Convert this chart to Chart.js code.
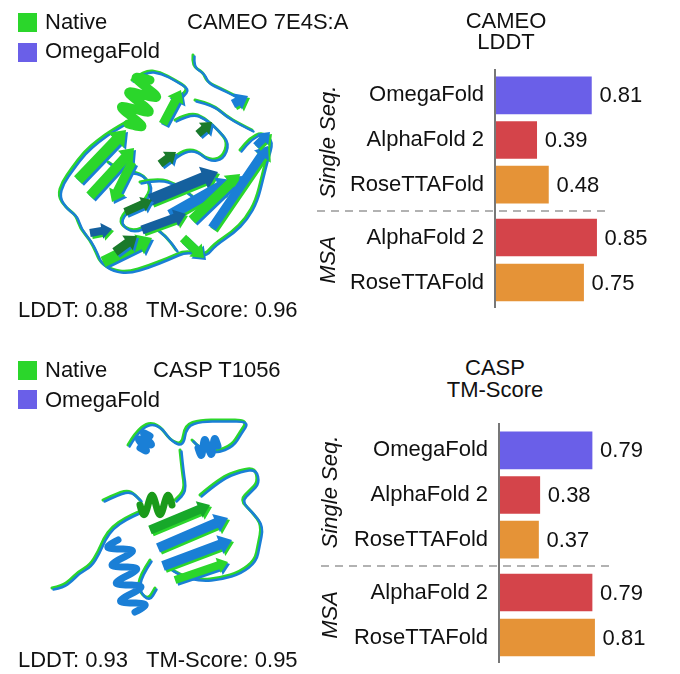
<!DOCTYPE html>
<html>
<head>
<meta charset="utf-8">
<script src="https://cdn.jsdelivr.net/npm/chart.js@4.4.0/dist/chart.umd.min.js"></script>
<style>
body { margin: 0; width: 680px; height: 674px; background: #fff; position: relative; overflow: hidden;
       font-family: 'Liberation Sans', Arial, sans-serif; color: #111; }
.t { position: absolute; font-size: 22px; line-height: 22px; white-space: nowrap; }
.c { text-align: center; width: 200px; }
.rot { position: absolute; font-size: 22px; font-style: italic; white-space: nowrap;
       transform: translate(-50%, -50%) rotate(-90deg); }
.sq { position: absolute; width: 19px; height: 19px; }
canvas, svg { position: absolute; }
</style>
</head>
<body>

<canvas id="proteins" width="320" height="674" style="left:0;top:0"></canvas>

<!-- top panel text -->
<div class="sq" style="left:18px;top:13px;background:#2bd62b"></div>
<div class="t" style="left:45px;top:11px">Native</div>
<div class="sq" style="left:18px;top:43px;background:#6a5fe8"></div>
<div class="t" style="left:45px;top:40px">OmegaFold</div>
<div class="t" style="left:187px;top:11px">CAMEO 7E4S:A</div>
<div class="t c" style="left:406px;top:10px">CAMEO</div>
<div class="t c" style="left:406px;top:31px">LDDT</div>
<div class="t" style="left:18px;top:299px">LDDT: 0.88 &nbsp; TM-Score: 0.96</div>
<div class="rot" style="left:328px;top:142px">Single Seq.</div>
<div class="rot" style="left:328px;top:260px">MSA</div>

<!-- bottom panel text -->
<div class="sq" style="left:18px;top:361px;background:#2bd62b"></div>
<div class="t" style="left:45px;top:359px">Native</div>
<div class="sq" style="left:18px;top:390px;background:#6a5fe8"></div>
<div class="t" style="left:45px;top:389px">OmegaFold</div>
<div class="t" style="left:153px;top:359px">CASP T1056</div>
<div class="t c" style="left:395px;top:357px">CASP</div>
<div class="t c" style="left:395px;top:379px">TM-Score</div>
<div class="t" style="left:18px;top:649px">LDDT: 0.93 &nbsp; TM-Score: 0.95</div>
<div class="rot" style="left:330px;top:492px">Single Seq.</div>
<div class="rot" style="left:330px;top:615px">MSA</div>

<canvas id="cameoSingle" width="340" height="142" style="left:340px;top:69px"></canvas>
<canvas id="cameoMsa" width="340" height="97" style="left:340px;top:211px"></canvas>
<canvas id="caspSingle" width="336" height="142" style="left:344px;top:424px"></canvas>
<canvas id="caspMsa" width="336" height="97" style="left:344px;top:566px"></canvas>

<svg width="680" height="674" style="left:0;top:0">
  <line x1="495" y1="69" x2="495" y2="308" stroke="#777" stroke-width="2"/>
  <line x1="317" y1="211" x2="608" y2="211" stroke="#999" stroke-width="1.5" stroke-dasharray="8 6"/>
  <line x1="499" y1="423" x2="499" y2="663" stroke="#777" stroke-width="2"/>
  <line x1="321" y1="566" x2="612" y2="566" stroke="#999" stroke-width="1.5" stroke-dasharray="8 6"/>
</svg>

<script>
"use strict";

var singleSeqMethods = ['OmegaFold', 'AlphaFold 2', 'RoseTTAFold'];
var msaMethods = ['AlphaFold 2', 'RoseTTAFold'];

var cameoSingleLddt = [0.81, 0.39, 0.48];
var cameoMsaLddt = [0.85, 0.75];
var caspSingleTm = [0.79, 0.38, 0.37];
var caspMsaTm = [0.79, 0.81];

var methodColors = {
	'OmegaFold': '#6a5fe8',
	'AlphaFold 2': '#d4444a',
	'RoseTTAFold': '#e59337'
};

var FONT = "'Liberation Sans', Arial, sans-serif";

/*******************
  VALUE LABELS
*******************/

var valueLabels = {
	id: 'valueLabels',
	afterDatasetsDraw: function(chart) {
		var ctx = chart.ctx;
		var values = chart.data.datasets[0].data;
		ctx.save();
		ctx.font = '22px ' + FONT;
		ctx.fillStyle = '#111';
		ctx.textBaseline = 'middle';
		chart.getDatasetMeta(0).data.forEach(function(bar, i) {
			ctx.fillText(values[i].toFixed(2), bar.x + 8, bar.y + 1);
		});
		ctx.restore();
	}
};

function barChart(id, methods, values, xMin, xMax, padTop, padBottom) {
	return new Chart(document.getElementById(id), {
		type: 'bar',
		data: {
			labels: methods,
			datasets: [{
				data: values,
				backgroundColor: methods.map(function(m) { return methodColors[m]; }),
				barThickness: 37
			}]
		},
		options: {
			indexAxis: 'y',
			responsive: false,
			animation: false,
			layout: { padding: { top: padTop, bottom: padBottom, left: 0, right: 0 } },
			plugins: {
				legend: { display: false },
				tooltip: { enabled: false }
			},
			scales: {
				x: { display: false, min: xMin, max: xMax },
				y: {
					grid: { display: false, drawTicks: false },
					border: { display: false },
					ticks: { padding: 11, color: '#111', font: { family: FONT, size: 22 } },
					afterFit: function(scale) {
						// fixed gutter so the axis lands where the reference has it
						scale.width = 155;
						scale.paddingTop = 0;
						scale.paddingBottom = 0;
					}
				}
			}
		},
		plugins: [valueLabels]
	});
}

barChart('cameoSingle', singleSeqMethods, cameoSingleLddt, 0.07, 1.49, 4, 4);
barChart('cameoMsa', msaMethods, cameoMsaLddt, 0.07, 1.49, 4, 3);
barChart('caspSingle', singleSeqMethods, caspSingleTm, 0.06, 1.48, 4, 4);
barChart('caspMsa', msaMethods, caspMsaTm, 0.06, 1.48, 4, 3);

/*******************
  CARTOON STRUCTURES (decoration)
*******************/

var pc = document.getElementById('proteins').getContext('2d');
var GREEN = '#2bd62b', DKGREEN = '#1a7a2a', BLUE = '#1a7fd6', DKBLUE = '#15609e';

function coil(pts, color, w) {
	pc.beginPath();
	pc.moveTo(pts[0][0], pts[0][1]);
	for (var i = 1; i < pts.length - 1; i++) {
		pc.quadraticCurveTo(pts[i][0], pts[i][1], (pts[i][0] + pts[i + 1][0]) / 2, (pts[i][1] + pts[i + 1][1]) / 2);
	}
	pc.lineTo(pts[pts.length - 1][0], pts[pts.length - 1][1]);
	pc.strokeStyle = color;
	pc.lineWidth = w;
	pc.lineCap = 'round';
	pc.lineJoin = 'round';
	pc.stroke();
}

function arrow(x1, y1, x2, y2, color, w) {
	var len = Math.hypot(x2 - x1, y2 - y1), ux = (x2 - x1) / len, uy = (y2 - y1) / len;
	var nx = -uy, ny = ux, hx = x2 - ux * w * 1.3, hy = y2 - uy * w * 1.3;
	pc.beginPath();
	pc.moveTo(x1 + nx * w / 2, y1 + ny * w / 2);
	pc.lineTo(hx + nx * w / 2, hy + ny * w / 2);
	pc.lineTo(hx + nx * w, hy + ny * w);
	pc.lineTo(x2, y2);
	pc.lineTo(hx - nx * w, hy - ny * w);
	pc.lineTo(hx - nx * w / 2, hy - ny * w / 2);
	pc.lineTo(x1 - nx * w / 2, y1 - ny * w / 2);
	pc.closePath();
	pc.fillStyle = color;
	pc.fill();
}

// strand drawn twice, the predicted one peeking out under the native one
function strand(s) {
	var other = (s[4] === GREEN || s[4] === DKGREEN) ? BLUE : GREEN;
	arrow(s[0] + 2, s[1] + 2, s[2] + 2, s[3] + 2, other, s[5]);
	arrow(s[0], s[1], s[2], s[3], s[4], s[5]);
}

function helix(h) {
	var x1 = h[0], y1 = h[1], x2 = h[2], y2 = h[3], turns = h[4], amp = h[5], color = h[6];
	var len = Math.hypot(x2 - x1, y2 - y1), nx = -(y2 - y1) / len, ny = (x2 - x1) / len;
	var pts = [];
	for (var i = 0; i <= turns * 12; i++) {
		var t = i / (turns * 12), off = amp * Math.sin(t * turns * 2 * Math.PI);
		pts.push([x1 + (x2 - x1) * t + nx * off, y1 + (y2 - y1) * t + ny * off]);
	}
	coil(pts, color, h[7] || 7);
}

function loops(list) {
	list.forEach(function(pts) {
		coil(pts, GREEN, 3);
		coil(pts.map(function(p) { return [p[0] + 1.5, p[1] + 1.5]; }), BLUE, 2.5);
	});
}

// CAMEO 7E4S:A
loops([
	[[193,55],[192,66],[203,72],[207,82],[220,88],[232,94],[243,100]],
	[[132,80],[145,70],[160,72],[175,80],[188,88],[182,95]],
	[[126,122],[112,130],[98,140],[84,152],[72,168],[62,182],[58,196],[66,208],[76,215],[80,228],[90,240],[96,252],[100,262],[112,270],[128,272],[148,266],[168,258],[186,250],[204,256],[214,244],[232,232],[246,218],[256,200],[262,176],[266,160],[272,140],[262,132],[250,138],[240,150]],
	[[175,120],[190,112],[205,118],[218,130],[228,142],[222,158],[208,160],[196,150],[184,150],[170,160]],
	[[108,162],[122,172],[140,172],[152,186],[144,202],[128,208],[118,222],[132,232],[150,224],[166,236],[176,250]],
	[[195,100],[212,104],[226,116],[240,124],[252,130]],
	[[140,182],[158,178],[176,184],[192,196]]
]);
helix([128, 124, 150, 80, 3, 14, GREEN, 9]);
[
	[78,180,126,130,GREEN,11],
	[90,196,134,148,GREEN,10],
	[132,162,112,202,GREEN,9],
	[163,124,181,90,GREEN,9],
	[150,200,218,172,DKBLUE,12],
	[170,215,232,180,BLUE,11],
	[192,220,240,174,GREEN,10],
	[212,228,268,146,BLUE,9],
	[103,262,152,238,GREEN,11],
	[115,252,137,236,DKGREEN,9],
	[90,233,112,229,DKBLUE,8],
	[183,238,204,258,GREEN,9],
	[142,230,186,214,DKBLUE,9],
	[198,134,212,122,DKGREEN,8],
	[160,164,176,152,DKGREEN,8],
	[233,104,248,96,BLUE,9],
	[125,212,152,200,DKGREEN,8],
	[256,146,270,132,BLUE,8]
].forEach(strand);

// CASP T1056
loops([
	[[52,588],[62,586],[70,580],[78,572],[90,565],[98,552],[104,538],[112,527],[125,518],[138,512]],
	[[128,445],[135,433],[148,422],[160,426],[170,440],[182,445],[185,425],[200,420],[222,420],[248,420],[240,432],[232,445],[215,452],[200,448],[192,440]],
	[[180,450],[182,470],[185,490],[175,500]],
	[[200,495],[220,478],[240,470],[255,468],[258,482],[250,490],[240,500],[252,512],[262,525],[258,545],[255,560],[240,572],[220,578],[200,580],[180,575],[165,565]],
	[[150,560],[140,575],[138,590],[148,600],[155,588]],
	[[103,500],[118,493],[130,490],[140,500]]
]);
[
	[150,530,210,505,'#17a82a',9],
	[158,548,228,518,BLUE,10],
	[163,566,232,540,BLUE,10],
	[175,580,228,562,GREEN,8]
].forEach(strand);
helix([118, 540, 135, 612, 4, 12, BLUE]);
helix([140, 505, 172, 505, 2, 10, '#1a9a1a']);
helix([198, 448, 218, 446, 2, 8, BLUE]);
helix([140, 448, 150, 436, 2, 7, BLUE]);
</script>
</body>
</html>
